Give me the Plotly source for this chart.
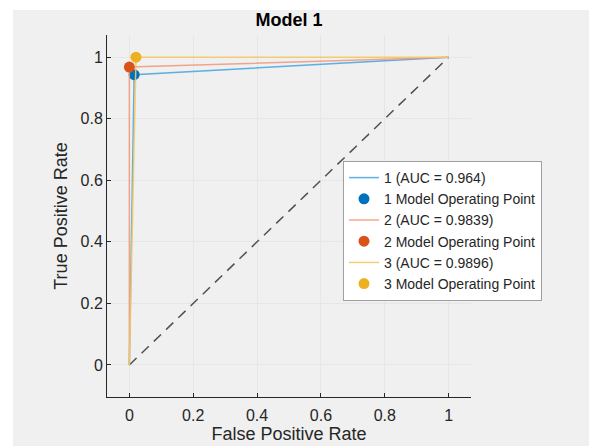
import plotly.graph_objects as go

# ROC data
model_names = ["1", "2", "3"]
auc_values = ["0.964", "0.9839", "0.9896"]
roc_fpr = [[0, 0.015, 1], [0, 0.0, 1], [0, 0.0208, 1]]
roc_tpr = [[0, 0.943, 1], [0, 0.9678, 1], [0, 1.0, 1]]
op_fpr = [0.015, 0.0, 0.0208]
op_tpr = [0.943, 0.9678, 1.0]
diag_x = [0, 1]
diag_y = [0, 1]
tick_vals = [0, 0.2, 0.4, 0.6, 0.8, 1]
tick_text = ["0", "0.2", "0.4", "0.6", "0.8", "1"]

line_colors = ["rgba(77,166,224,0.9)", "rgba(240,150,120,0.85)", "rgba(245,200,100,0.9)"]
marker_colors = ["#0072BD", "#D95319", "#EDB120"]

FONT = "Liberation Sans, Arial, Helvetica, sans-serif"
OFF = 8  # page body margin
W, H = 597 - OFF, 446 - OFF
L, R, T, B = 107 - OFF, 471 - OFF, 35 - OFF, 397 - OFF

fig = go.Figure()
fig.add_trace(go.Scatter(x=diag_x, y=diag_y, mode="lines",
                         line=dict(color="#505050", width=1.5, dash="10px,7px"),
                         showlegend=False, hoverinfo="skip"))
for i in range(3):
    fig.add_trace(go.Scatter(x=roc_fpr[i], y=roc_tpr[i], mode="lines",
                             name=f"{model_names[i]} (AUC = {auc_values[i]})",
                             line=dict(color=line_colors[i], width=1.5)))
    fig.add_trace(go.Scatter(x=[op_fpr[i]], y=[op_tpr[i]], mode="markers",
                             name=f"{model_names[i]} Model Operating Point",
                             marker=dict(color=marker_colors[i], size=11)))

pw = R - L
ph = B - T
def px(x):
    return (x - OFF - L) / pw
def py(y):
    return (B - (y - OFF)) / ph

fig.add_shape(type="rect", xref="paper", yref="paper",
              x0=px(13), x1=px(W + 20), y0=py(H + 20), y1=py(10),
              fillcolor="#f0f0f0", line=dict(width=0), layer="below")

axis_common = dict(
    automargin=False,
    showgrid=True, gridcolor="#e6e6e6", gridwidth=1,
    zeroline=False, showline=True, linecolor="#262626", linewidth=1,
    ticks="inside", ticklen=4, tickcolor="#262626",
    tickvals=tick_vals, ticktext=tick_text,
    tickfont=dict(family=FONT, size=16, color="#262626"),
)
fig.update_xaxes(range=[-0.07, 1.07], ticklabelstandoff=4,
                 title=dict(text="False Positive Rate",
                            font=dict(family=FONT, size=18, color="#262626"), standoff=2),
                 **axis_common)
fig.update_yaxes(range=[-0.104, 1.072],
                 title=dict(text="True Positive Rate",
                            font=dict(family=FONT, size=18, color="#262626"), standoff=8),
                 **axis_common)

fig.update_layout(
    width=W, height=H,
    margin=dict(l=L, r=W - R, t=T, b=H - B, pad=0, autoexpand=False),
    paper_bgcolor="white", plot_bgcolor="white",
    title=dict(text="<b>Model 1</b>", x=px(289), xanchor="center", xref="paper",
               y=1 - (20 - OFF) / H, yanchor="middle",
               font=dict(family=FONT, size=18, color="#000000")),
    legend=dict(x=px(343), y=py(161), xanchor="left", yanchor="top",
                bgcolor="white", bordercolor="#a0a0a0", borderwidth=1,
                font=dict(family=FONT, size=14, color="#262626"),
                tracegroupgap=0),
    showlegend=True,
)

fig.write_html("out.html")
